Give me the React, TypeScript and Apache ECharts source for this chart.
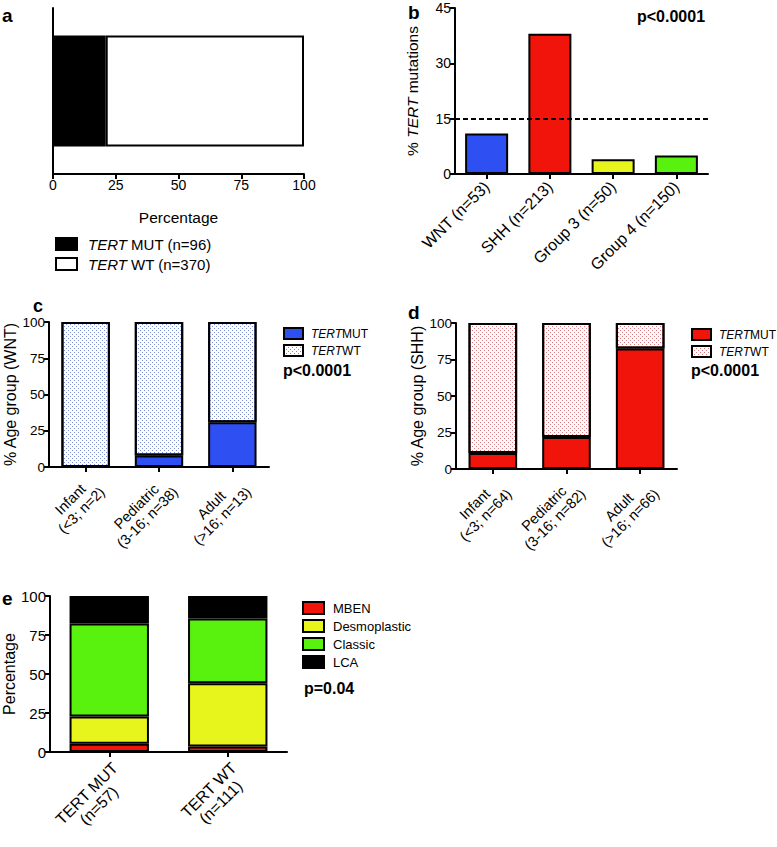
import React, { useEffect, useRef } from "react";
import * as echarts from "echarts";

const FONT = "'Liberation Sans', Arial, Helvetica, sans-serif";

// ---------- Panel a ----------
const aCategories = ["All"];
const aMut = [21];
const aWt = [79];
const aTicks = { min: 0, max: 100, interval: 25 };

// ---------- Panel b ----------
const bCategories = ["WNT (n=53)", "SHH (n=213)", "Group 3 (n=50)", "Group 4 (n=150)"];
const bValues = [11, 38, 4, 5];
const bColors = ["#2e4ff2", "#f0140a", "#e8f51c", "#58f20e"];
const bThreshold = 15;
const bTicks = { min: 0, max: 45, interval: 15 };

// ---------- Panel c ----------
const cCategories = ["Infant\n(<3; n=2)", "Pediatric\n(3-16; n=38)", "Adult\n(>16; n=13)"];
const cMut = [0, 7.9, 30.8];
const cWt = [100, 92.1, 69.2];

// ---------- Panel d ----------
const dCategories = ["Infant\n(<3; n=64)", "Pediatric\n(3-16; n=82)", "Adult\n(>16; n=66)"];
const dMut = [10.9, 22.0, 82.6];
const dWt = [89.1, 78.0, 17.4];

// ---------- Panel e ----------
const eCategories = ["TERT MUT\n(n=57)", "TERT WT\n(n=111)"];
const eMben = [5.3, 3.6];
const eDesmo = [17.5, 40.5];
const eClassic = [59.6, 41.4];
const eLca = [17.6, 14.5];

const pctTicks = { min: 0, max: 100, interval: 25 };

const BLUE = "#2e4ff2";
const RED = "#f0140a";
const YELLOW = "#e8f51c";
const GREEN = "#58f20e";

const axisLine = { show: true, lineStyle: { color: "#000", width: 2 } };
const axisTick = { show: true, length: 5, lineStyle: { color: "#000", width: 2 } };

function valueAxis(gridIndex: number, t: any, fontSize: number, extra: any = {}) {
  return {
    type: "value",
    gridIndex,
    min: t.min,
    max: t.max,
    interval: t.interval,
    axisLine,
    axisTick,
    axisLabel: { color: "#000", fontSize, fontFamily: FONT, margin: 4 },
    splitLine: { show: false },
    ...extra,
  };
}

function catAxis(gridIndex: number, data: string[], fontSize: number, margin: number, vAlign: string) {
  return {
    type: "category",
    gridIndex,
    data,
    axisLine,
    axisTick: { ...axisTick, alignWithLabel: true },
    axisLabel: {
      color: "#000",
      fontSize,
      fontFamily: FONT,
      rotate: 45,
      margin,
      interval: 0,
      verticalAlign: vAlign,
      formatter: (v: string) => v.split("\n").map((s) => `{c|${s}}`).join("\n"),
      rich: {
        c: { align: "center", fontSize, fontFamily: FONT, color: "#000", lineHeight: fontSize + 1 },
      },
    },
  };
}

function yName(name: string, gap: number, fontSize: number) {
  return {
    name,
    nameLocation: "middle",
    nameGap: gap,
    nameRotate: 90,
    nameTextStyle: {
      color: "#000",
      fontSize,
      fontFamily: FONT,
      rich: {
        i: { fontStyle: "italic", fontSize, fontFamily: FONT, color: "#000" },
      },
    },
  };
}

const border = { borderColor: "#000", borderWidth: 2 };

function dotDecal(color: string) {
  return {
    symbol: "rect",
    symbolSize: 1,
    color,
    dashArrayX: [
      [1, 3],
      [0, 2, 1, 1],
    ],
    dashArrayY: [1, 1],
    rotation: 0,
  };
}

function legend(names: string[], left: number, top: number, opts: any) {
  return {
    data: names,
    left,
    top,
    padding: 0,
    orient: "vertical",
    icon: "rect",
    itemWidth: opts.w,
    itemHeight: opts.h,
    itemGap: opts.gap,
    selectedMode: false,
    formatter: opts.formatter,
    textStyle: {
      color: "#000",
      fontSize: opts.fs,
      fontFamily: FONT,
      lineHeight: opts.lh,
      padding: [0, 0, 0, opts.pad],
      rich: {
        i: { fontStyle: "italic", fontSize: opts.fs, fontFamily: FONT, color: "#000", lineHeight: opts.lh },
        n: { fontSize: opts.fs, fontFamily: FONT, color: "#000", lineHeight: opts.lh },
      },
    },
  };
}

function label(text: string, x: number, y: number, fontSize: number) {
  return {
    type: "text",
    x,
    y,
    style: {
      text,
      fill: "#000",
      font: `bold ${fontSize}px ${FONT}`,
      textVerticalAlign: "middle",
      verticalAlign: "middle",
    },
  };
}

export default function App() {
  const ref = useRef<HTMLDivElement>(null);

  useEffect(() => {
    if (!ref.current) return;
    const chart = echarts.init(ref.current, undefined, { renderer: "svg" });

    const option: any = {
      animation: false,
      backgroundColor: "#fff",
      textStyle: { fontFamily: FONT },
      grid: [
        { left: 53, top: 8, width: 251, height: 166, containLabel: false, outerBoundsMode: "none" },
        { left: 455, top: 8, width: 253, height: 166, containLabel: false, outerBoundsMode: "none" },
        { left: 49, top: 322, width: 220, height: 145, containLabel: false, outerBoundsMode: "none" },
        { left: 456, top: 323, width: 221, height: 146, containLabel: false, outerBoundsMode: "none" },
        { left: 50, top: 596, width: 237, height: 156, containLabel: false, outerBoundsMode: "none" },
      ],
      xAxis: [
        valueAxis(0, aTicks, 14, {
          name: "Percentage",
          nameLocation: "middle",
          nameGap: 35,
          nameTextStyle: { color: "#000", fontSize: 15.5, fontFamily: FONT },
        }),
        {
          type: "category",
          gridIndex: 1,
          data: bCategories,
          axisLine,
          axisTick: { ...axisTick, alignWithLabel: true },
          axisLabel: {
            color: "#000",
            fontSize: 16,
            fontFamily: FONT,
            rotate: 45,
            margin: 10,
            interval: 0,
          },
        },
        catAxis(2, cCategories, 14.5, 6, "top"),
        catAxis(3, dCategories, 14.5, 6, "top"),
        catAxis(4, eCategories, 16, 7, "top"),
      ],
      yAxis: [
        {
          type: "category",
          gridIndex: 0,
          data: aCategories,
          axisLine,
          axisTick: { show: false },
          axisLabel: { show: false },
        },
        valueAxis(1, bTicks, 14, yName("% {i|TERT} mutations", 35, 15.5)),
        valueAxis(2, pctTicks, 13.5, yName("% Age group (WNT)", 31, 16)),
        valueAxis(3, pctTicks, 13.5, yName("% Age group (SHH)", 28, 16)),
        valueAxis(4, pctTicks, 15, yName("Percentage", 30, 16)),
      ],
      legend: [
        legend(["TERT MUT (n=96)", "TERT WT (n=370)"], 55, 236, {
          w: 21,
          h: 12,
          gap: 4,
          fs: 15,
          lh: 16,
          pad: 6,
          formatter: (n: string) => n.replace("TERT", "{i|TERT}"),
        }),
        legend(["WNT TERT MUT", "WNT TERT WT"], 283, 327, {
          w: 19,
          h: 11,
          gap: 4,
          fs: 12,
          lh: 12,
          pad: 3,
          formatter: (n: string) => (n.endsWith("MUT") ? "{i|TERT}{n|MUT}" : "{i|TERT}{n|WT}"),
        }),
        legend(["SHH TERT MUT", "SHH TERT WT"], 691, 328, {
          w: 19,
          h: 11,
          gap: 4,
          fs: 12,
          lh: 12,
          pad: 3,
          formatter: (n: string) => (n.endsWith("MUT") ? "{i|TERT}{n|MUT}" : "{i|TERT}{n|WT}"),
        }),
        legend(["MBEN", "Desmoplastic", "Classic", "LCA"], 302, 601, {
          w: 21,
          h: 12,
          gap: 4,
          fs: 13,
          lh: 13,
          pad: 4,
        }),
      ],
      series: [
        // a
        {
          type: "bar",
          name: "TERT MUT (n=96)",
          xAxisIndex: 0,
          yAxisIndex: 0,
          stack: "a",
          data: aMut,
          barCategoryGap: "33%",
          itemStyle: { color: "#000", ...border },
        },
        {
          type: "bar",
          name: "TERT WT (n=370)",
          xAxisIndex: 0,
          yAxisIndex: 0,
          stack: "a",
          data: aWt,
          barCategoryGap: "33%",
          itemStyle: { color: "#fff", ...border },
        },
        // b
        {
          type: "bar",
          name: "Subgroup",
          xAxisIndex: 1,
          yAxisIndex: 1,
          data: bValues.map((v, i) => ({ value: v, itemStyle: { color: bColors[i] } })),
          barWidth: "68%",
          itemStyle: { ...border },
          markLine: {
            silent: true,
            symbol: ["none", "none"],
            label: { show: false },
            lineStyle: { color: "#000", width: 2, type: [5, 3] },
            data: [{ yAxis: bThreshold }],
          },
        },
        // c
        {
          type: "bar",
          name: "WNT TERT MUT",
          xAxisIndex: 2,
          yAxisIndex: 2,
          stack: "c",
          data: cMut,
          barWidth: "66%",
          itemStyle: { color: BLUE, ...border },
        },
        {
          type: "bar",
          name: "WNT TERT WT",
          xAxisIndex: 2,
          yAxisIndex: 2,
          stack: "c",
          data: cWt,
          barWidth: "66%",
          itemStyle: { color: "#fff", ...border, decal: dotDecal("#7c8dd8") },
        },
        // d
        {
          type: "bar",
          name: "SHH TERT MUT",
          xAxisIndex: 3,
          yAxisIndex: 3,
          stack: "d",
          data: dMut,
          barWidth: "66%",
          itemStyle: { color: RED, ...border },
        },
        {
          type: "bar",
          name: "SHH TERT WT",
          xAxisIndex: 3,
          yAxisIndex: 3,
          stack: "d",
          data: dWt,
          barWidth: "66%",
          itemStyle: { color: "#fff", ...border, decal: dotDecal("#dc7a80") },
        },
        // e
        {
          type: "bar",
          name: "MBEN",
          xAxisIndex: 4,
          yAxisIndex: 4,
          stack: "e",
          data: eMben,
          barWidth: "67%",
          itemStyle: { color: RED, ...border },
        },
        {
          type: "bar",
          name: "Desmoplastic",
          xAxisIndex: 4,
          yAxisIndex: 4,
          stack: "e",
          data: eDesmo,
          barWidth: "67%",
          itemStyle: { color: YELLOW, ...border },
        },
        {
          type: "bar",
          name: "Classic",
          xAxisIndex: 4,
          yAxisIndex: 4,
          stack: "e",
          data: eClassic,
          barWidth: "67%",
          itemStyle: { color: GREEN, ...border },
        },
        {
          type: "bar",
          name: "LCA",
          xAxisIndex: 4,
          yAxisIndex: 4,
          stack: "e",
          data: eLca,
          barWidth: "67%",
          itemStyle: { color: "#000", ...border },
        },
      ],
      graphic: [
        label("a", 2, 15, 19),
        label("b", 408, 12, 19),
        label("c", 33, 306, 18),
        label("d", 408, 312, 19),
        label("e", 2, 598, 19),
        label("p<0.0001", 637, 16, 16),
        label("p<0.0001", 283, 370, 16),
        label("p<0.0001", 691, 370, 16),
        label("p=0.04", 304, 688, 16),
      ],
    };

    chart.setOption(option);
    return () => chart.dispose();
  }, []);

  return (
    <div
      ref={ref}
      style={{ position: "absolute", left: 0, top: 0, width: 777, height: 847, background: "#fff" }}
    />
  );
}
